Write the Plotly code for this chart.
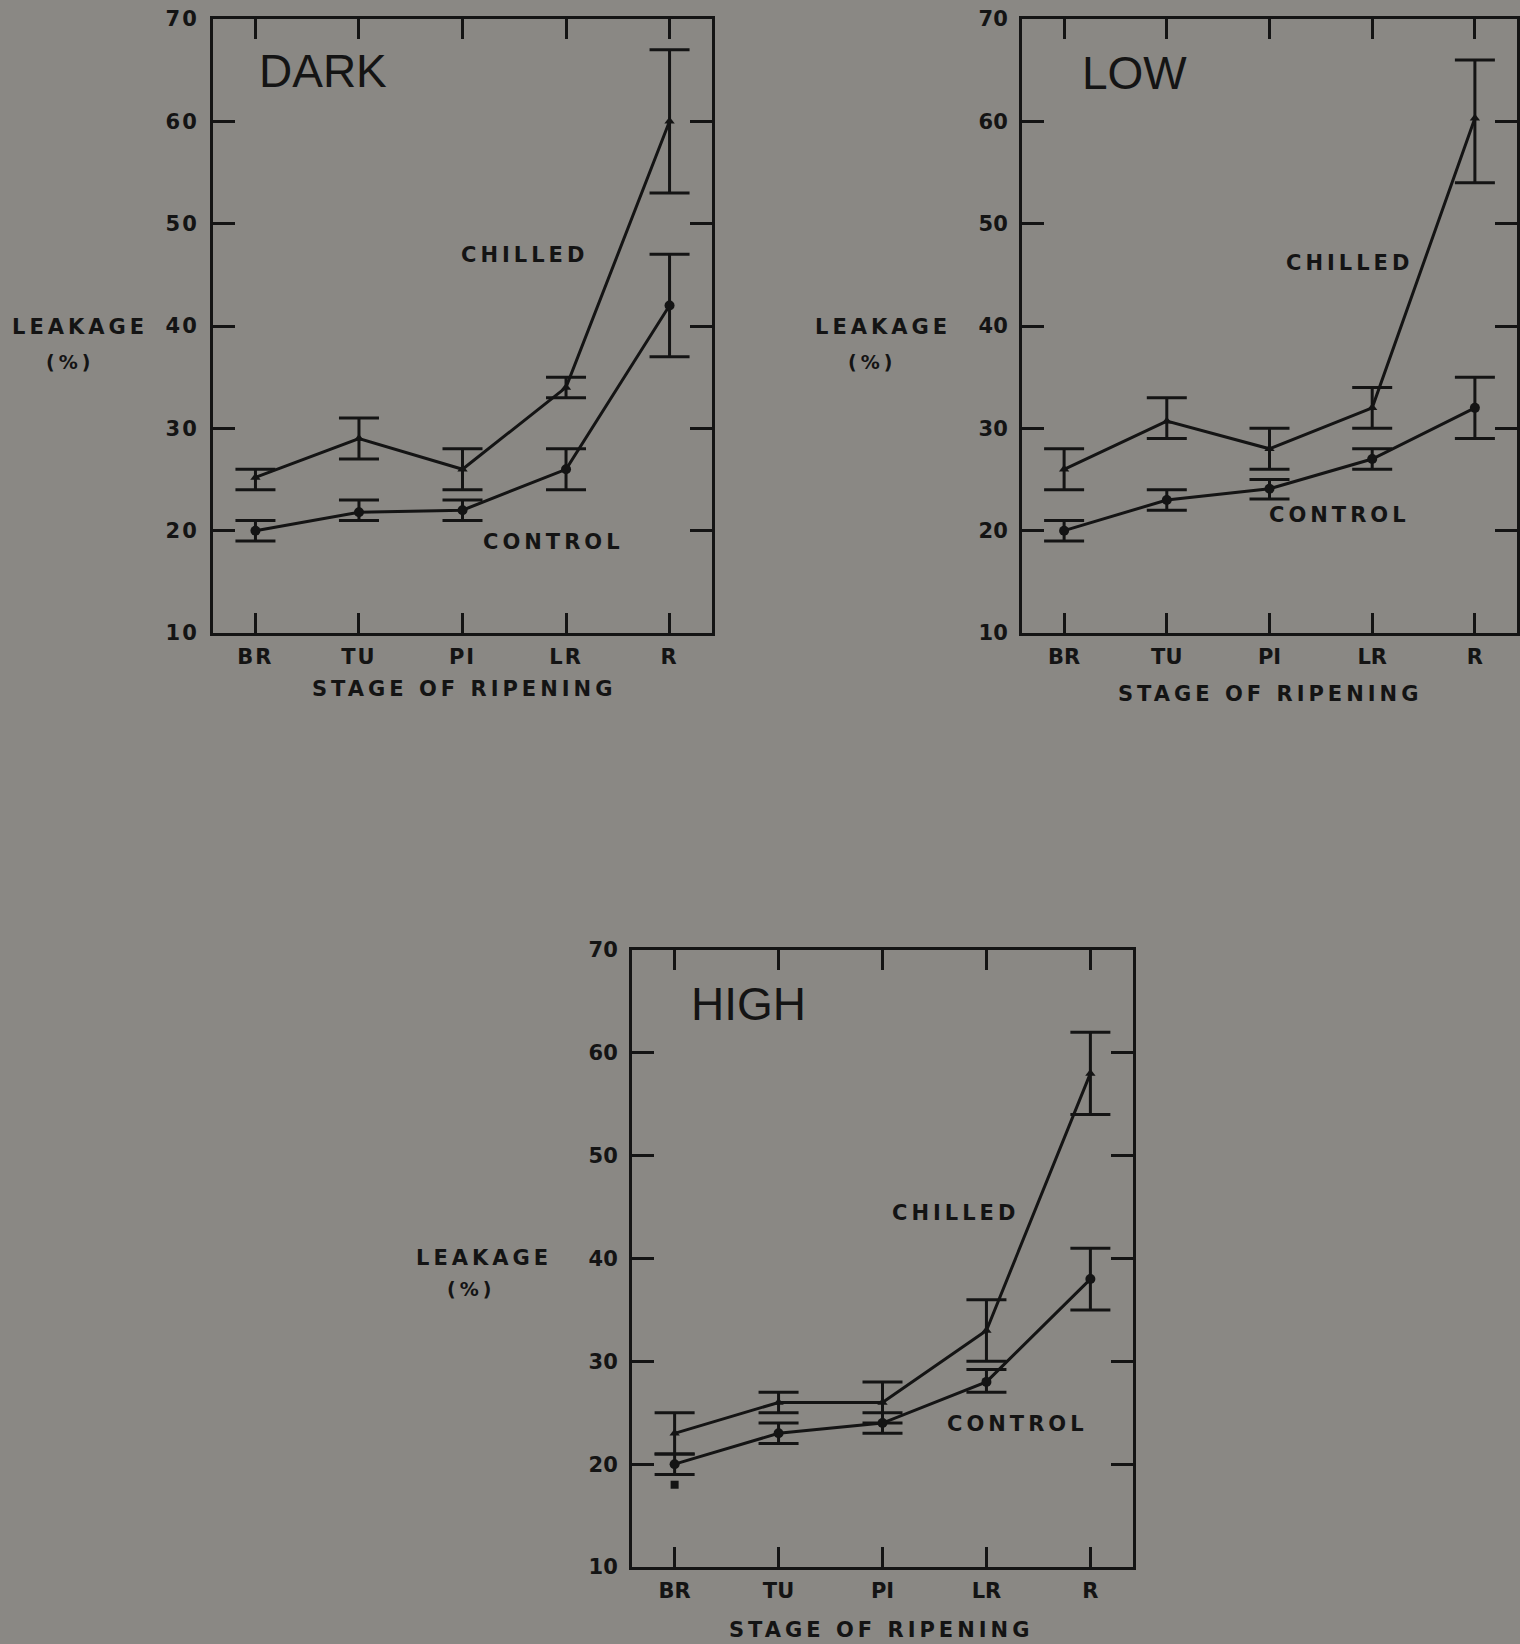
import plotly.graph_objects as go

stages = ["BR", "TU", "PI", "LR", "R"]

# DARK panel
dark_chilled = [25.2, 29.0, 26.0, 34.0, 60.0]
dark_chilled_lo = [24.0, 27.0, 24.0, 33.0, 53.0]
dark_chilled_hi = [26.0, 31.0, 28.0, 35.0, 67.0]
dark_control = [20.0, 21.8, 22.0, 26.0, 42.0]
dark_control_lo = [19.0, 21.0, 21.0, 24.0, 37.0]
dark_control_hi = [21.0, 23.0, 23.0, 28.0, 47.0]

# LOW panel
low_chilled = [26.0, 30.7, 28.0, 32.0, 60.3]
low_chilled_lo = [24.0, 29.0, 26.0, 30.0, 54.0]
low_chilled_hi = [28.0, 33.0, 30.0, 34.0, 66.0]
low_control = [20.0, 23.0, 24.1, 27.0, 32.0]
low_control_lo = [19.0, 22.0, 23.1, 26.0, 29.0]
low_control_hi = [21.0, 24.0, 25.0, 28.0, 35.0]

# HIGH panel
high_chilled = [23.0, 26.0, 26.0, 33.0, 58.0]
high_chilled_lo = [21.0, 25.0, 24.0, 30.0, 54.0]
high_chilled_hi = [25.0, 27.0, 28.0, 36.0, 62.0]
high_control = [20.0, 23.0, 24.0, 28.0, 38.0]
high_control_lo = [19.0, 22.0, 23.0, 27.0, 35.0]
high_control_hi = [21.0, 24.0, 25.0, 29.2, 41.0]
high_stray_stage = ["BR"]
high_stray_value = [18.0]

panel_names = ["DARK", "LOW", "HIGH"]
y_ticks = [10, 20, 30, 40, 50, 60, 70]

BG = "#8a8884"
INK = "#141414"
W, H = 1520, 1644

# panel boxes in pixels (left, right, top, bottom)
boxes = [(213, 712, 19, 633), (1022, 1517, 19, 633), (632, 1133, 950, 1567)]

data = [
    (dark_chilled, dark_chilled_lo, dark_chilled_hi, dark_control, dark_control_lo, dark_control_hi),
    (low_chilled, low_chilled_lo, low_chilled_hi, low_control, low_control_lo, low_control_hi),
    (high_chilled, high_chilled_lo, high_chilled_hi, high_control, high_control_lo, high_control_hi),
]

fig = go.Figure()

tick_font = dict(family="DejaVu Sans", size=21, color=INK, weight="bold")

for i, (box, d) in enumerate(zip(boxes, data)):
    l, r, t, b = box
    xa = "xaxis" if i == 0 else f"xaxis{i+1}"
    ya = "yaxis" if i == 0 else f"yaxis{i+1}"
    xr = "x" if i == 0 else f"x{i+1}"
    yr = "y" if i == 0 else f"y{i+1}"
    ch, chlo, chhi, co, colo, cohi = d
    for vals, lo, hi, sym, msize in [(co, colo, cohi, "circle", 10), (ch, chlo, chhi, "triangle-up", 9)]:
        fig.add_trace(go.Scatter(
            x=stages, y=vals, xaxis=xr, yaxis=yr, mode="lines+markers",
            line=dict(color=INK, width=3),
            marker=dict(symbol=sym, size=msize, color=INK),
            error_y=dict(type="data", symmetric=False,
                         array=[h - v for h, v in zip(hi, vals)],
                         arrayminus=[v - q for v, q in zip(vals, lo)],
                         width=20, thickness=3, color=INK),
            showlegend=False, hoverinfo="skip",
        ))
    fig.layout[xa] = dict(
        domain=[l / W, r / W], anchor=yr, type="category", range=[-0.41, 4.41],
        showline=True, linecolor=INK, linewidth=3, mirror="allticks",
        ticks="inside", ticklen=20, tickwidth=3, tickcolor=INK, automargin=False,
        showgrid=False, zeroline=False, tickfont=tick_font, ticklabelstandoff=3,
    )
    fig.layout[ya] = dict(
        domain=[1 - b / H, 1 - t / H], anchor=xr, range=[10, 70],
        tickvals=y_ticks, showline=True, linecolor=INK, linewidth=3, mirror="allticks",
        ticks="inside", ticklen=22, tickwidth=3, tickcolor=INK, automargin=False,
        showgrid=False, zeroline=False, tickfont=tick_font, ticklabelstandoff=7,
    )

fig.add_trace(go.Scatter(
    x=high_stray_stage, y=high_stray_value, xaxis="x3", yaxis="y3", mode="markers",
    marker=dict(symbol="square", size=8, color=INK), showlegend=False, hoverinfo="skip",
))

lab_font = dict(family="DejaVu Sans", size=21, color=INK, weight="bold")
title_font = dict(family="Liberation Sans", size=46, color=INK)


def ann(x, y, text, font, xanchor="center"):
    fig.add_annotation(x=x / W, y=1 - y / H, xref="paper", yref="paper", text=text,
                       showarrow=False, font=font, xanchor=xanchor, yanchor="middle")


# panel titles
ann(323, 71, "DARK", title_font)
ann(1134, 73, "LOW", title_font)
ann(748, 1004, "HIGH", title_font)

# curve labels
ann(524, 255, "CHILLED", lab_font)
ann(553, 542, "CONTROL", lab_font)
ann(1349, 263, "CHILLED", lab_font)
ann(1339, 515, "CONTROL", lab_font)
ann(955, 1213, "CHILLED", lab_font)
ann(1017, 1424, "CONTROL", lab_font)

# y axis labels
for (lx, ly, px, py) in [(80, 327, 70, 362), (883, 327, 872, 362), (484, 1258, 471, 1289)]:
    ann(lx, ly, "LEAKAGE", lab_font)
    ann(px, py, "(%)", dict(family="DejaVu Sans", size=19, color=INK, weight="bold"))

# x axis titles
ann(464, 689, "STAGE OF RIPENING", lab_font)
ann(1270, 694, "STAGE OF RIPENING", lab_font)
ann(881, 1630, "STAGE OF RIPENING", lab_font)

fig.update_layout(
    width=W, height=H, margin=dict(l=0, r=0, t=0, b=0, autoexpand=False),
    paper_bgcolor=BG, plot_bgcolor=BG,
)

post = """
document.documentElement.style.margin = '0';
document.documentElement.style.overflow = 'hidden';
document.body.style.margin = '0';
document.body.style.overflow = 'hidden';
document.body.style.background = '%s';
var titles = ['DARK', 'LOW', 'HIGH'];
document.querySelectorAll('text.annotation-text').forEach(function (t) {
  if (titles.indexOf(t.textContent) < 0) { t.setAttribute('letter-spacing', '4px'); }
});
document.querySelectorAll('g.xtick text, g.ytick text').forEach(function (t) {
  t.setAttribute('letter-spacing', '2px');
});
""" % BG

fig.write_html("out.html", post_script=post, config={"displayModeBar": False})
